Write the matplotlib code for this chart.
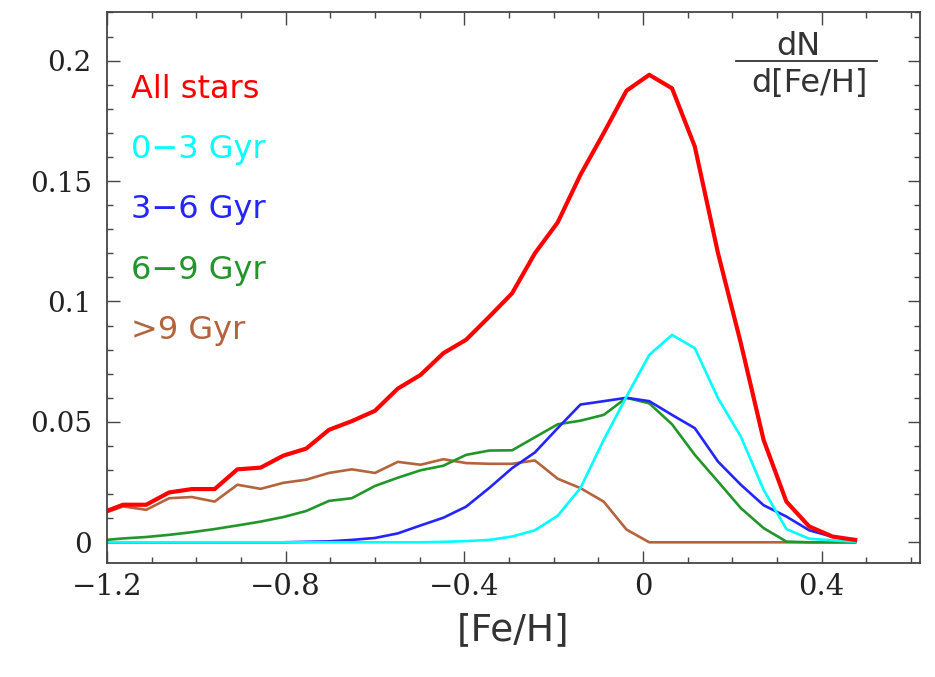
'''
Metallicity distribution dN/d[Fe/H] of all stars and of four age groups
'''

from matplotlib import pyplot as plt
from matplotlib.ticker import MultipleLocator
from matplotlib.lines import Line2D

# [Fe/H] bin positions
fe_h = [-1.215, -1.164, -1.112, -1.061, -1.010, -0.959, -0.908, -0.856,
        -0.805, -0.754, -0.703, -0.652, -0.600, -0.549, -0.498, -0.447,
        -0.396, -0.344, -0.293, -0.242, -0.191, -0.140, -0.088, -0.037,
        0.014, 0.065, 0.116, 0.168, 0.219, 0.270, 0.321, 0.372, 0.424, 0.475]

all_stars = [0.012, 0.0156, 0.0156, 0.0207, 0.0221, 0.0221, 0.0303, 0.031,
             0.036, 0.0389, 0.0467, 0.0503, 0.0546, 0.0638, 0.0695, 0.0785,
             0.0841, 0.0937, 0.1034, 0.12, 0.1328, 0.1526, 0.1699, 0.1875,
             0.1941, 0.1885, 0.1643, 0.12, 0.0827, 0.0425, 0.0169, 0.0066,
             0.0024, 0.001]
age_0_3 = [0, 0, 0, 0, 0, 0, 0, 0,
           0, 0, 0, 0, 0, 0, 0, 0.0002,
           0.0005, 0.001, 0.0024, 0.005, 0.011, 0.0225, 0.0425, 0.0605,
           0.0778, 0.0861, 0.0806, 0.0598, 0.0439, 0.0218, 0.0055, 0.0015,
           0.0008, 0.0003]
age_3_6 = [0, 0, 0, 0, 0, 0, 0, 0,
           0, 0.0002, 0.0004, 0.001, 0.0018, 0.0037, 0.007, 0.0102,
           0.0148, 0.0226, 0.0308, 0.0373, 0.0474, 0.0572, 0.0586, 0.06,
           0.0586, 0.0529, 0.0474, 0.0335, 0.0239, 0.0154, 0.0107, 0.005,
           0.0023, 0.001]
age_6_9 = [0.0008, 0.0016, 0.0022, 0.0031, 0.0042, 0.0055, 0.007, 0.0086,
           0.0105, 0.013, 0.0172, 0.0183, 0.0234, 0.0268, 0.0299, 0.0318,
           0.0363, 0.0381, 0.0382, 0.0436, 0.049, 0.0505, 0.0529, 0.06,
           0.0577, 0.049, 0.0363, 0.0252, 0.0142, 0.0059, 0.0003, 0,
           0, 0]
age_9_up = [0.0115, 0.0149, 0.0135, 0.0183, 0.0188, 0.0169, 0.0239, 0.0222,
            0.0247, 0.026, 0.0288, 0.0303, 0.0288, 0.0334, 0.0322, 0.0345,
            0.0329, 0.0326, 0.0326, 0.034, 0.0264, 0.0225, 0.0169, 0.0053,
            0, 0, 0, 0, 0, 0, 0, 0,
            0, 0]

labels = ['All stars', '0\u22123 Gyr', '3\u22126 Gyr', '6\u22129 Gyr', '>9 Gyr']
colors = ['#ff0000', '#00ffff', '#2424ff', '#22962a', '#b4643c']

fig = plt.figure(figsize=(9.35, 6.77), dpi=100)
ax = fig.add_axes([0.1144, 0.168, 0.8695, 0.8147])

series = [age_9_up, age_6_9, age_3_6, age_0_3]
for vals, col in zip(series, colors[:0:-1]):
    ax.plot(fe_h, vals, color=col, lw=1.9)
ax.plot(fe_h, all_stars, color=colors[0], lw=3.0)

ax.set_xlim(-1.2, 0.62)
ax.set_ylim(-0.0087, 0.2203)

ax.xaxis.set_major_locator(MultipleLocator(0.4))
ax.xaxis.set_minor_locator(MultipleLocator(0.1))
ax.yaxis.set_major_locator(MultipleLocator(0.05))
ax.yaxis.set_minor_locator(MultipleLocator(0.01))
ax.set_xticks([-1.2, -0.8, -0.4, 0, 0.4])
ax.set_xticklabels(['\u22121.2', '\u22120.8', '\u22120.4', '0', '0.4'])
ax.set_yticks([0, 0.05, 0.1, 0.15, 0.2])
ax.set_yticklabels(['0', '0.05', '0.1', '0.15', '0.2'])

ax.tick_params(which='both', direction='in', top=True, right=True,
               color='#444444', width=1.0)
ax.tick_params(which='major', length=9)
ax.tick_params(which='minor', length=4.5)
ax.tick_params(axis='x', pad=7)
ax.tick_params(axis='y', pad=11)
for lab in ax.get_xticklabels():
    lab.set_fontfamily('DejaVu Serif')
    lab.set_fontsize(21)
    lab.set_color('#222222')
for lab in ax.get_yticklabels():
    lab.set_fontfamily('DejaVu Serif')
    lab.set_fontsize(20)
    lab.set_color('#222222')
for sp in ax.spines.values():
    sp.set_color('#444444')
    sp.set_linewidth(1.3)

ax.set_xlabel('[Fe/H]', fontsize=27, color='#333333', labelpad=8)

# colour-coded labels in the upper left
label_y = [0.844, 0.735, 0.626, 0.516, 0.407]
for txt, col, yy in zip(labels, colors, label_y):
    ax.text(0.029, yy, txt, color=col, fontsize=23,
            transform=ax.transAxes, va='baseline', ha='left')

# dN / d[Fe/H] in the upper right
ax.text(0.850, 0.9215, 'dN', fontsize=23, color='#333333',
        transform=ax.transAxes, ha='center', va='baseline')
ax.text(0.8635, 0.855, 'd[Fe/H]', fontsize=23, color='#333333',
        transform=ax.transAxes, ha='center', va='baseline')
ax.add_line(Line2D([0.7737, 0.947], [0.9112, 0.9112], transform=ax.transAxes,
                   color='#333333', lw=1.3))

fig.savefig('out.png', dpi=100)
